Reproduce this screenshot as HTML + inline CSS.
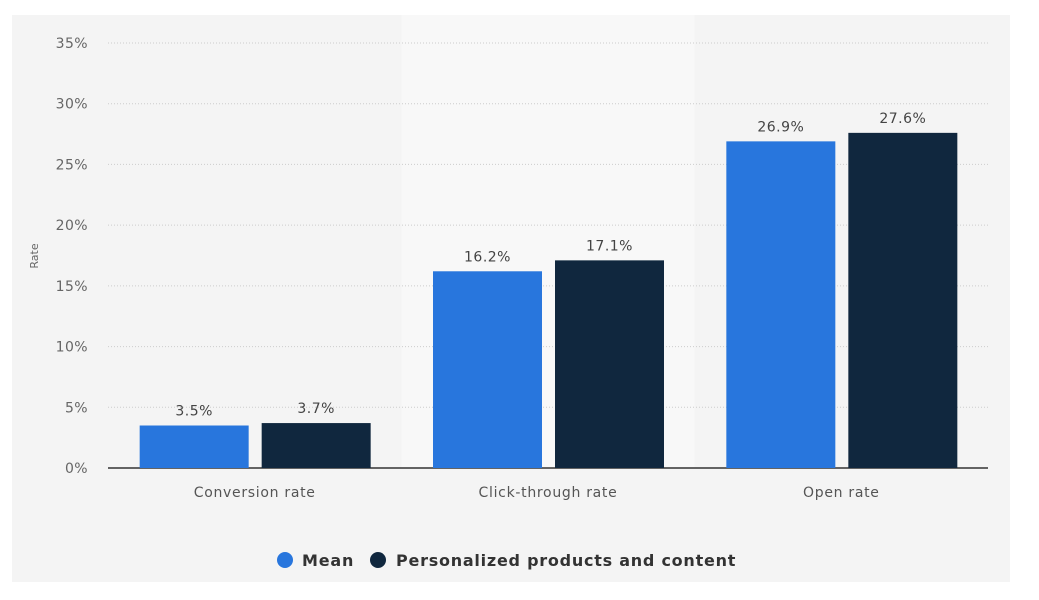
<!DOCTYPE html>
<html><head><meta charset="utf-8"><style>
body{margin:0;background:#fff;width:1039px;height:596px;overflow:hidden;font-family:"DejaVu Sans","Liberation Sans",sans-serif}
</style></head><body>
<svg id="chart" width="1039" height="596" xmlns="http://www.w3.org/2000/svg">
<rect x="12" y="15" width="998" height="567" fill="#f4f4f4"/>
<g id="bands"></g><g id="grid"></g><g id="bars"></g><g id="labels"></g>
<text transform="translate(38,256) rotate(-90)" text-anchor="middle" font-size="11" fill="#666">Rate</text>
<g>
<circle cx="285" cy="560" r="8" fill="#2876dd"/>
<text x="302" y="566" font-size="16" font-weight="bold" fill="#333" letter-spacing="0.8">Mean</text>
<circle cx="378" cy="560" r="8" fill="#10273e"/>
<text x="396" y="566" font-size="16" font-weight="bold" fill="#333" letter-spacing="0.75">Personalized products and content</text>
</g>
</svg>
<script>
const categories=["Conversion rate","Click-through rate","Open rate"];
const meanValues=[3.5,16.2,26.9];
const personalizedValues=[3.7,17.1,27.6];
const yTicks=[0,5,10,15,20,25,30,35];
const NS="http://www.w3.org/2000/svg";
const x0=108,x1=988,y0=468,yTop=43,yMax=35;
const bw=(x1-x0)/categories.length;
const y=v=>y0-(v/yMax)*(y0-yTop);
function mk(tag,attrs,parent,text){const e=document.createElementNS(NS,tag);for(const k in attrs)e.setAttribute(k,attrs[k]);if(text!==undefined)e.textContent=text;document.getElementById(parent).appendChild(e);return e;}
categories.forEach((c,i)=>{if(i%2===1){const r=mk('rect',{x:x0+i*bw,y:15,width:bw,height:y0-15,fill:'#f8f8f8'},'bands');}});
yTicks.forEach(t=>{
 if(t>0){const l=mk('line',{x1:x0,x2:x1,y1:y(t),y2:y(t),stroke:'#ccc','stroke-dasharray':'1,2'},'grid');
 
 }
 const tx=mk('text',{x:88,y:y(t)+5,'text-anchor':'end','font-size':'14',fill:'#666','letter-spacing':'0.4'},'grid',t+'%');
 
 
});
const ax=mk('line',{x1:x0,x2:x1,y1:y0,y2:y0,stroke:'#333','stroke-width':1.5},'grid');


categories.forEach((c,i)=>{
 const cx=x0+bw*(i+0.5);
 [[meanValues[i],'#2876dd',cx-115,'mean'],[personalizedValues[i],'#10273e',cx+7,'personalized']].forEach(([v,col,bx,s])=>{
  const r=mk('rect',{x:bx,y:y(v),width:109,height:y0-y(v),fill:col},'bars');
  
  
  const t=mk('text',{x:bx+54.5,y:y(v)-10,'text-anchor':'middle','font-size':'14',fill:'#444','letter-spacing':'0.5'},'labels',v.toFixed(1)+'%');
  
  
 });
 const t=mk('text',{x:cx,y:497,'text-anchor':'middle','font-size':'14',fill:'#555','letter-spacing':'0.7'},'labels',c);
 
 
});
</script>
</body></html>
